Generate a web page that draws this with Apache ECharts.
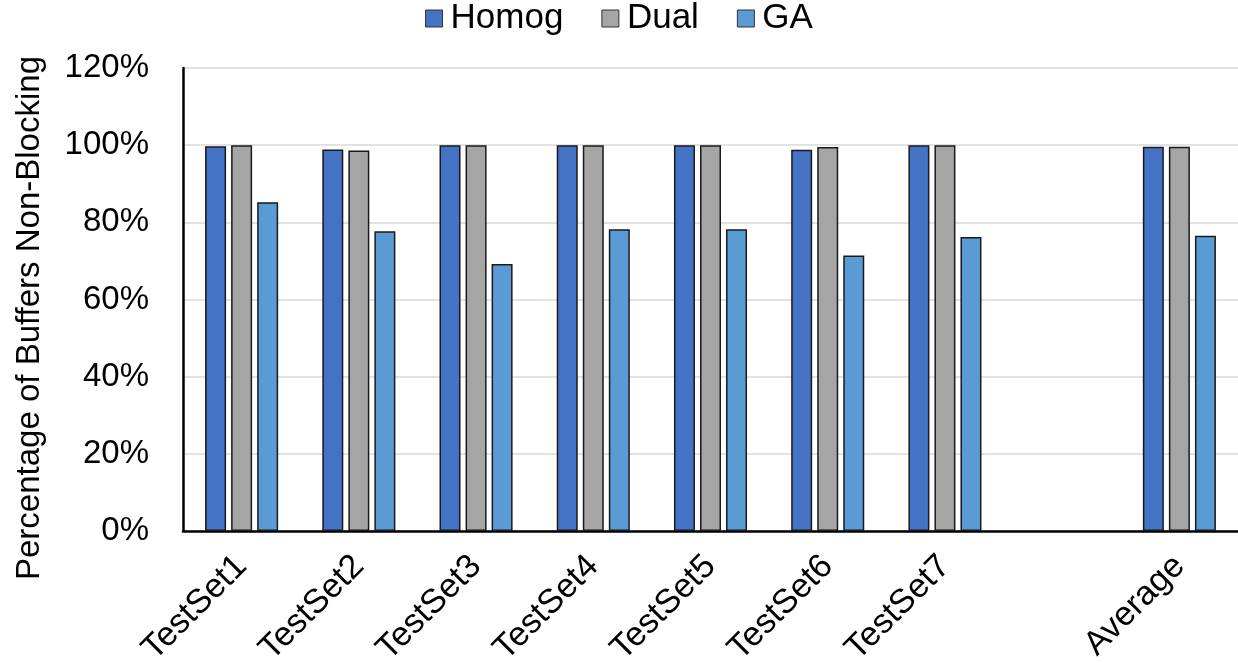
<!DOCTYPE html>
<html>
<head>
<meta charset="utf-8">
<script src="https://cdn.jsdelivr.net/npm/echarts@6/dist/echarts.min.js"></script>
<style>html,body{margin:0;padding:0;background:#fff}#c{width:1238px;height:663px}</style>
</head>
<body>
<div id="c"></div>
<script>
const categories = ['TestSet1','TestSet2','TestSet3','TestSet4','TestSet5','TestSet6','TestSet7','','Average'];
const homog = [99.7, 98.9, 100, 100, 100, 98.8, 100, null, 99.6];
const dual  = [100, 98.6, 100, 100, 100, 99.5, 100, null, 99.6];
const ga    = [85.2, 77.7, 69.2, 78.2, 78.2, 71.4, 76.2, null, 76.5];
const seriesNames = ['Homog','Dual','GA'];
const colors = ['#4472C4','#A5A5A5','#5B9BD5'];
const yAxisTitle = 'Percentage of Buffers Non-Blocking';

const font = 'Liberation Sans, Arial, sans-serif';
const chart = echarts.init(document.getElementById('c'));
const mk = (name, data, color) => ({
  name, type:'bar', data, barWidth:21, barGap:'24%',
  itemStyle:{color, borderColor:'#1a1a1a', borderWidth:1.5}
});
chart.setOption({
  animation:false,
  textStyle:{fontFamily:font},
  legend:{
    top:-4, left:'center', itemWidth:17, itemHeight:17, itemGap:38,
    icon:'rect',
    textStyle:{fontSize:35, color:'#000', fontFamily:font, padding:[0,0,0,3]},
    data:seriesNames.map((n,i)=>({name:n, itemStyle:{color:colors[i], borderColor:'#333', borderWidth:1}}))
  },
  graphic:[{
    type:'text', x:30, y:318, rotation:Math.PI/2,
    style:{text:yAxisTitle, fontSize:33, fill:'#000', fontFamily:font, textAlign:'center', textVerticalAlign:'middle'}
  }],
  grid:{left:183, right:0, top:68, bottom:132, containLabel:false, outerBoundsMode:'none'},
  xAxis:{
    type:'category', data:categories,
    axisLine:{lineStyle:{color:'#000', width:2.5}},
    axisTick:{show:false},
    axisLabel:{rotate:45, fontSize:34, color:'#000', margin:30, interval:0, fontFamily:font}
  },
  yAxis:{
    type:'value', min:0, max:120, interval:20,
    axisLine:{show:true, lineStyle:{color:'#000', width:2.5}},
    axisTick:{show:false},
    splitLine:{lineStyle:{color:'#d9d9d9', width:1.5}},
    axisLabel:{fontSize:33, color:'#000', margin:34, fontFamily:font, formatter:v=>v+'%'}
  },
  series:[mk('Homog',homog,colors[0]), mk('Dual',dual,colors[1]), mk('GA',ga,colors[2])]
});
</script>
</body>
</html>
